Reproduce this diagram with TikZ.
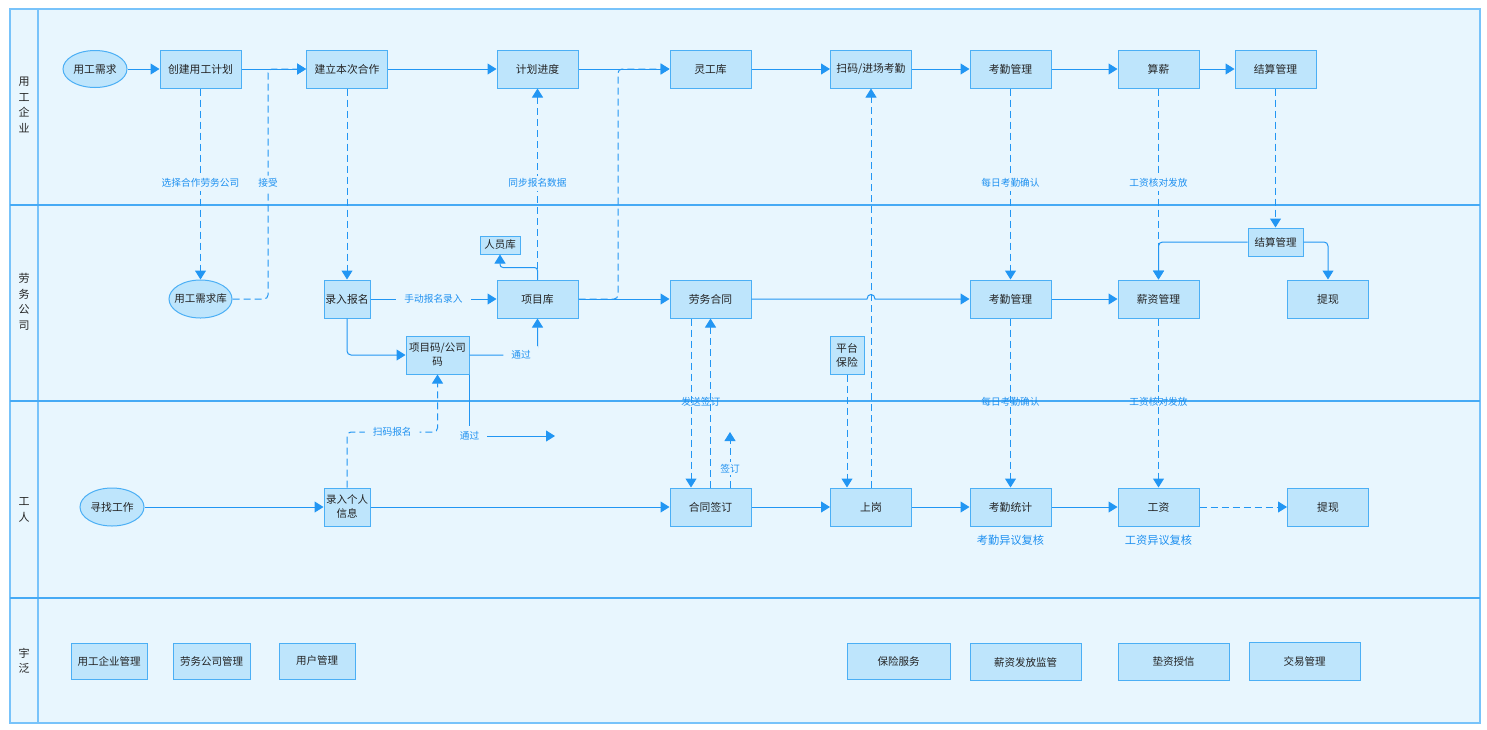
\documentclass[tikz,border=0pt]{standalone}
\usepackage{fontspec}
\newfontfamily\cjk{Noto Sans CJK SC}
\usetikzlibrary{shapes.geometric,arrows.meta,calc}
\definecolor{bgc}{RGB}{232,246,254}
\definecolor{outerc}{RGB}{120,195,250}
\definecolor{lanec}{RGB}{70,170,245}
\definecolor{boxf}{RGB}{190,229,252}
\definecolor{boxd}{RGB}{75,175,245}
\definecolor{linec}{RGB}{34,150,243}
\definecolor{labc}{RGB}{30,144,240}
\definecolor{txt}{RGB}{35,35,35}
\tikzset{
  box/.style={draw=boxd, fill=boxf, line width=1pt, minimum width=81pt, minimum height=38pt,
    inner sep=0pt, font=\cjk\fontsize{10.8}{14}\selectfont, text=txt, align=center},
  ell/.style={box, ellipse, minimum width=64pt, minimum height=37pt, inner xsep=-8pt},
  sm/.style={font=\cjk\fontsize{10.5}{14}\selectfont},
  ln/.style={draw=linec, line width=1pt, -{Triangle[length=9pt,width=11pt]}},
  dl/.style={ln, dash pattern=on 7pt off 4pt},
  lab/.style={font=\cjk\fontsize{9.7}{11}\selectfont, text=labc, fill=bgc, inner xsep=8pt, inner ysep=3pt},
  labnf/.style={font=\cjk\fontsize{9.7}{11}\selectfont, text=labc, inner sep=0pt},
  lanelab/.style={font=\cjk\fontsize{11}{15.5}\selectfont, text=txt, align=center},
  biglab/.style={font=\cjk\fontsize{11.2}{13}\selectfont, text=labc},
}
\begin{document}
\begin{tikzpicture}[x=1pt,y=-1pt]
\useasboundingbox (0,0) rectangle (1487,729);
\fill[white] (0,0) rectangle (1487,729);
% lanes
\fill[bgc] (10,9) rectangle (1480,723);
\draw[outerc, line width=1.2pt] (10,9) rectangle (1480,723);
\draw[outerc, line width=1.2pt] (38,9) -- (38,723);
\draw[lanec, line width=1.5pt] (10,205) -- (1480,205);
\draw[lanec, line width=1.5pt] (10,401) -- (1480,401);
\draw[lanec, line width=1.5pt] (10,598) -- (1480,598);
\node[lanelab] (l1) at (24,105) {用\\工\\企\\业};
\node[lanelab] (l2) at (24,302) {劳\\务\\公\\司};
\node[lanelab] (l3) at (24,510) {工\\人};
\node[lanelab] (l4) at (24,661) {宇\\泛};

% lane 1
\node[ell] (yxq) at (95,69) {用工需求};
\node[box] (cj) at (200.5,69) {创建用工计划};
\node[box] (jl) at (347,69) {建立本次合作};
\node[box] (jhjd) at (537.5,69) {计划进度};
\node[box] (lgk) at (710.5,69) {灵工库};
\node[box] (smkq) at (871,69) {扫码/进场考勤};
\node[box] (kqgl1) at (1010.5,69) {考勤管理};
\node[box] (sx) at (1158.5,69) {算薪};
\node[box] (jsgl1) at (1275.5,69) {结算管理};

% lane 2
\node[ell, sm, minimum width=63pt, minimum height=38pt] (xqk) at (200.5,299) {用工需求库};
\node[box, minimum width=46pt] (lrbm) at (347,299) {录入报名};
\node[box, sm, minimum width=40pt, minimum height=18pt] (ryk) at (500,245) {人员库};
\node[box] (xmk) at (537.5,299) {项目库};
\node[box, sm, minimum width=63pt] (xmm) at (437.5,355) {项目码/公司\\码};
\node[box] (lwht) at (710.5,299) {劳务合同};
\node[box, minimum width=34pt] (ptbx) at (847,355) {平台\\保险};
\node[box] (kqgl2) at (1010.5,299) {考勤管理};
\node[box] (xzgl) at (1158.5,299) {薪资管理};
\node[box, sm, minimum width=55pt, minimum height=28pt] (jsgl2) at (1275.5,242) {结算管理};
\node[box] (tx2) at (1328,299) {提现};

% lane 3
\node[ell, minimum width=64pt, minimum height=38pt] (xzgz) at (112,507) {寻找工作};
\node[box, sm, minimum width=46pt] (lrgr) at (347,507) {录入个人\\信息};
\node[box] (htqd) at (710.5,507) {合同签订};
\node[box] (sg) at (871,507) {上岗};
\node[box] (kqtj) at (1010.5,507) {考勤统计};
\node[box] (gz) at (1158.5,507) {工资};
\node[box] (tx3) at (1328,507) {提现};
\node[biglab] (yy1) at (1010.5,540) {考勤异议复核};
\node[biglab] (yy2) at (1158.5,540) {工资异议复核};

% lane 4
\node[box, sm, minimum width=76pt, minimum height=36pt] (m1) at (109,661) {用工企业管理};
\node[box, sm, minimum width=77pt, minimum height=36pt] (m2) at (211.5,661) {劳务公司管理};
\node[box, sm, minimum width=76pt, minimum height=36pt] (m3) at (317,661) {用户管理};
\node[box, sm, minimum width=103pt, minimum height=36pt] (m4) at (898.5,661) {保险服务};
\node[box, sm, minimum width=111pt, minimum height=37pt] (m5) at (1025.5,662) {薪资发放监管};
\node[box, sm, minimum width=111pt, minimum height=37pt] (m6) at (1173.5,662) {垫资授信};
\node[box, sm, minimum width=111pt, minimum height=38pt] (m7) at (1304.5,661) {交易管理};

\coordinate (tgend) at (555,436);
\coordinate (qdend) at (730,432);

% connectors lane 1
\draw[ln] (yxq) -- (cj);
\draw[dl, rounded corners=4pt] (xqk.east) -- (268,299) -- node[lab,pos=0.504]{接受} (268,69) -- (jl.west);
\draw[ln] (cj) -- (jl);
\draw[ln] (jl) -- (jhjd);
\draw[dl, rounded corners=4pt] (xmk.east) -- (618,299) -- (618,69) -- (lgk.west);
\draw[ln] (jhjd) -- (lgk);
\draw[ln] (lgk) -- (smkq);
\draw[ln] (smkq) -- (kqgl1);
\draw[ln] (kqgl1) -- (sx);
\draw[ln] (sx) -- (jsgl1);

% vertical dashed lane1 -> lane2
\draw[dl] (cj.south) -- node[lab,pos=0.495]{选择合作劳务公司} (xqk.north);
\draw[dl] (jl.south) -- (lrbm.north);
\draw[dl] (xmk.north) -- node[lab,pos=0.505]{同步报名数据} (jhjd.south);
\draw[dl] (kqgl1.south) -- node[lab,pos=0.495]{每日考勤确认} (kqgl2.north);
\draw[dl] (sx.south) -- node[lab,pos=0.495]{工资核对发放} (xzgl.north);
\draw[dl] (jsgl1.south) -- (jsgl2.north);
\draw[dl] (sg.north) -- (smkq.south);

% lane 2
\draw[ln, rounded corners=3pt] (xmk.north) -- ++(0,-12) -| (ryk.south);
\draw[ln] (lrbm) -- node[lab]{手动报名录入} (xmk);
\draw[ln, rounded corners=4pt] (lrbm.south) |- (xmm.west);
\draw[ln, rounded corners=3pt] (xmm.east) -| node[lab,pos=0.38,inner ysep=5pt]{通过} (xmk.south);
\draw[ln] (xmm.south east) |- node[lab,pos=0.5,inner ysep=6pt]{通过} (tgend);
\draw[ln] (xmk) -- (lwht);
\draw[ln] (lwht.east) -- (867,299) .. controls (867,293) and (875,293) .. (875,299) -- (kqgl2.west);
\draw[ln] (kqgl2) -- (xzgl);
\draw[ln, rounded corners=4pt] (jsgl2.west) -| (xzgl.north);
\draw[ln, rounded corners=4pt] (jsgl2.east) -| (tx2.north);

% lane 2 -> lane 3
\draw[dl] ([xshift=-19.5pt]lwht.south) -- node[labnf,pos=0.494]{发送} ([xshift=-19.5pt]htqd.north);
\draw[dl] (htqd.north) -- node[labnf,pos=0.506]{签订} (lwht.south);
\draw[dl] ([xshift=19.5pt]htqd.north) -- node[lab,pos=0.34,inner ysep=2pt]{签订} (qdend);
\draw[dl] (ptbx.south) -- (ptbx.south |- sg.north);
\draw[dl] (kqgl2.south) -- node[labnf,pos=0.494]{每日考勤确认} (kqtj.north);
\draw[dl] (xzgl.south) -- node[labnf,pos=0.494]{工资核对发放} (gz.north);
\draw[dl, rounded corners=4pt] (lrgr.north) -- (347,432) -- node[lab]{扫码报名} (437.5,432) -- (xmm.south);

% lane 3
\draw[ln] (xzgz) -- (lrgr);
\draw[ln] (lrgr) -- (htqd);
\draw[ln] (htqd) -- (sg);
\draw[ln] (sg) -- (kqtj);
\draw[ln] (kqtj) -- (gz);
\draw[dl] (gz) -- (tx3);
\end{tikzpicture}
\end{document}
